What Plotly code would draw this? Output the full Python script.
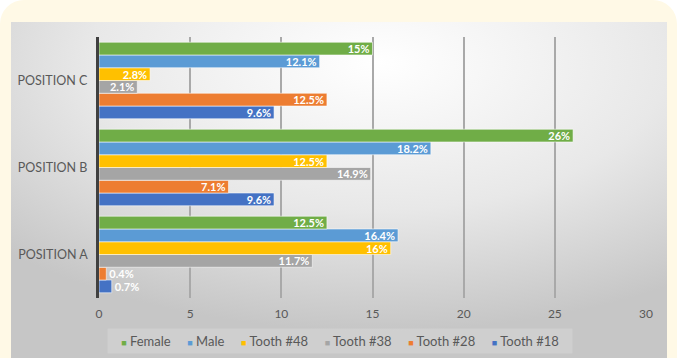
import base64
import plotly.graph_objects as go

categories = ["POSITION A", "POSITION B", "POSITION C"]
series_names = ["Tooth #18", "Tooth #28", "Tooth #38", "Tooth #48", "Male", "Female"]
tooth18 = [0.7, 9.6, 9.6]
tooth28 = [0.4, 7.1, 12.5]
tooth38 = [11.7, 14.9, 2.1]
tooth48 = [16, 12.5, 2.8]
male = [16.4, 18.2, 12.1]
female = [12.5, 26, 15]
x_ticks = [0, 5, 10, 15, 20, 25, 30]

series_values = [tooth18, tooth28, tooth38, tooth48, male, female]
colors = ["#4472C4", "#ED7D31", "#A5A5A5", "#FFC000", "#5B9BD5", "#70AD47"]

W, H = 677, 358
L, R, T, B = 99, 31, 37, 60
pw, ph = W - L - R, H - T - B

svg = f'''<svg xmlns="http://www.w3.org/2000/svg" width="{W}" height="{H}" viewBox="0 0 {W} {H}">
<defs>
<radialGradient id="g" cx="0.56" cy="0.12" r="0.8" gradientUnits="objectBoundingBox">
<stop offset="0" stop-color="#ffffff"/>
<stop offset="0.55" stop-color="#e8e8e8"/>
<stop offset="1" stop-color="#c6c6c6"/>
</radialGradient>
</defs>
<rect x="0" y="0" width="{W}" height="{H}" fill="#ffffff"/>
<rect x="0" y="0" width="{W}" height="{H+30}" rx="24" ry="24" fill="#FFF9E6"/>
<rect x="11" y="22" width="656" height="{H-22}" fill="url(#g)"/>
</svg>'''
src = "data:image/svg+xml;base64," + base64.b64encode(svg.encode()).decode()

fig = go.Figure()
for name, vals, col in zip(series_names, series_values, colors):
    texts = [f"{v:g}%" for v in vals]
    positions = ["outside" if v < 1.5 else "inside" for v in vals]
    fig.add_trace(go.Bar(
        y=categories, x=vals, name=name, orientation="h",
        marker=dict(color=col, line=dict(color="rgba(255,255,255,0.55)", width=1)),
        text=texts, textposition=positions, insidetextanchor="end",
        textfont=dict(family="Lato", size=11, color="white", weight="bold"),
        outsidetextfont=dict(family="Lato", size=11, color="white", weight="bold"),
        constraintext="none", cliponaxis=False, showlegend=False,
    ))

# legend (reversed order, as in the reference)
sep = "&nbsp;" * 5
legend_text = sep.join(
    f'<span style="color:{c};font-size:9px">■</span>&nbsp;{n}'
    for n, c in zip(reversed(series_names), reversed(colors))
)

fig.update_layout(
    width=W, height=H,
    margin=dict(l=L, r=R, t=T, b=B, pad=0),
    paper_bgcolor="#ffffff", plot_bgcolor="rgba(0,0,0,0)",
    barmode="group", bargap=0.12, bargroupgap=0,
    font=dict(family="Lato", color="#595959", size=12),
    images=[dict(source=src, xref="paper", yref="paper",
                 x=-L / pw, y=(ph + T) / ph, sizex=W / pw, sizey=H / ph,
                 xanchor="left", yanchor="top", sizing="stretch", layer="below")],
    annotations=[dict(text=legend_text, xref="paper", yref="paper",
                      x=(340 - L) / pw, y=-(340.5 - (T + ph)) / ph,
                      xanchor="center", yanchor="middle", showarrow=False,
                      font=dict(family="Lato", size=13, color="#595959"),
                      bgcolor="rgba(215,215,215,0.55)", borderpad=4,
                      width=456, height=16, align="center")],
    xaxis=dict(range=[0, 30], tickvals=x_ticks, showgrid=True, gridcolor="#a9a9a9",
               gridwidth=1.5, zeroline=False, showline=False, ticklabelstandoff=7,
               tickfont=dict(size=12, color="#595959"), ticklen=0),
    yaxis=dict(categoryorder="array", categoryarray=categories, showline=True,
               linecolor="#404040", linewidth=2.5, ticksuffix="  ",
               tickfont=dict(size=12.5, color="#595959"), showgrid=False),
    showlegend=False,
)
fig.write_html("out.html")
